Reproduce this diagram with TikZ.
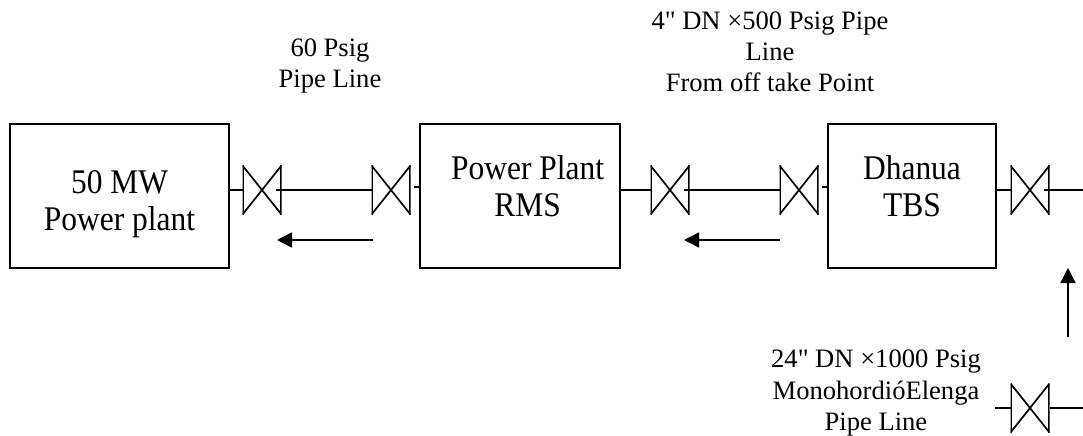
\documentclass[tikz,border=0pt]{standalone}
\usepackage{fontspec}
\newfontfamily\serifplain{Liberation Serif}
\newfontfamily\serifbox[FakeStretch=0.91]{Liberation Serif}
\usetikzlibrary{arrows.meta}
\tikzset{
  plantbox/.style={draw=black, line width=1.2pt, minimum height=3.6cm, inner sep=0pt, align=center,
               text depth=0pt, font=\serifbox\fontsize{24.6}{26.7}\selectfont},
  valve/.style={minimum width=0.975cm, minimum height=1.225cm, inner sep=0pt, outer sep=0pt,
               path picture={
               \draw[line width=1.2pt] (path picture bounding box.south west) -- (path picture bounding box.north east)
               (path picture bounding box.south east) -- (path picture bounding box.north west);
               \draw[line width=2.4pt] (path picture bounding box.south west) -- (path picture bounding box.north west)
               (path picture bounding box.south east) -- (path picture bounding box.north east);}},
  pipe/.style={line width=1.1pt},
  flow/.style={-{Triangle[length=0.38cm, width=0.38cm]}, line width=1.1pt},
  note/.style={align=center, font=\serifplain\fontsize{18.9}{22.2}\selectfont},
}
\begin{document}
\begin{tikzpicture}
\useasboundingbox (0,0) rectangle (27.075,10.875);
\node[plantbox, minimum width=5.475cm, text height=1.75cm] (plant) at (2.99,5.975) {50 MW\\Power plant};
\node[plantbox, minimum width=5cm, text height=1.05cm] (rms) at (13,5.975) {\hspace*{0.38cm}Power Plant\\\hspace*{0.38cm}RMS};
\node[plantbox, minimum width=4.2cm, text height=1.05cm] (tbs) at (22.8,5.975) {Dhanua\\TBS};
\foreach \name/\x in {valveA/6.55, valveB/9.775, valveC/16.75, valveD/19.975, valveE/25.75}
  \node[valve] (\name) at (\x,6.125) {};
\node[valve] (valveF) at (25.75,0.675) {};
\coordinate (endE) at (27.075,6.125);
\coordinate (startF) at (24.875,0.675);
\coordinate (endF) at (27.075,0.675);
\draw[pipe] (plant.east |- valveA.west) -- (valveA.west);
\draw[pipe] ([xshift=-0.15cm]valveA.east) -- (valveB.west);
\draw[pipe] ([yshift=0.08cm,xshift=-0.12cm]rms.west |- valveB.west) -- ([yshift=0.08cm]rms.west |- valveB.west);
\draw[pipe] (rms.east |- valveC.west) -- (valveC.west);
\draw[pipe] ([xshift=-0.15cm]valveC.east) -- (valveD.west);
\draw[pipe] ([yshift=0.08cm,xshift=-0.12cm]tbs.west |- valveD.west) -- ([yshift=0.08cm]tbs.west |- valveD.west);
\draw[pipe] (tbs.east |- valveE.west) -- (valveE.west);
\draw[pipe] ([xshift=-0.15cm]valveE.east) -- (endE);
\draw[pipe] (startF) -- (valveF.west);
\draw[pipe] (valveF.east) -- (endF);
% flow direction
\coordinate (flowAs) at (9.325,4.875);
\coordinate (flowAe) at (6.925,4.875);
\coordinate (flowBs) at (19.5,4.875);
\coordinate (flowBe) at (17.1,4.875);
\coordinate (flowCs) at (26.7,2.45);
\coordinate (flowCe) at (26.7,4.175);
\draw[flow] (flowAs) -- (flowAe);
\draw[flow] (flowBs) -- (flowBe);
\draw[flow] (flowCs) -- (flowCe);
\node[note] (lineA) at (8.25,9.225) {60 Psig\\Pipe Line};
\node[note] (lineB) at (19.25,9.575) {4" DN ×500 Psig Pipe\\Line\\From off take Point};
\node[note] (lineC) at (21.9,1.05) {24" DN ×1000 Psig\\MonohordióElenga\\Pipe Line};
\end{tikzpicture}
\end{document}
